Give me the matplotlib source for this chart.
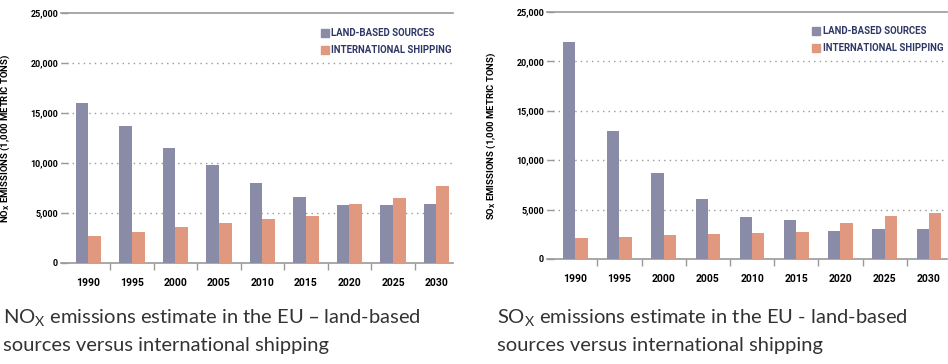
import matplotlib
matplotlib.use("Agg")
import matplotlib.pyplot as plt
import numpy as np
from matplotlib.patches import Patch

years = ["1990", "1995", "2000", "2005", "2010", "2015", "2020", "2025", "2030"]

nox_land = [16000, 13700, 11500, 9800, 8000, 6600, 5800, 5800, 5900]
nox_ship = [2700, 3100, 3600, 4000, 4400, 4700, 5900, 6500, 7700]

sox_land = [22000, 13000, 8700, 6100, 4300, 3900, 2800, 3000, 3000]
sox_ship = [2100, 2200, 2400, 2500, 2600, 2700, 3600, 4400, 4700]

yticks = [0, 5000, 10000, 15000, 20000, 25000]

LAND = "#8a8ba7"
SHIP = "#e0997f"
GRID = "#999999"
NAVY = "#2e3766"
COND = ["DejaVu Sans Condensed", "Noto Sans Condensed", "Liberation Sans Narrow", "Roboto"]
CAPF = ["Lato", "DejaVu Sans"]

fig = plt.figure(figsize=(9.48, 3.64), dpi=100)


def draw(rect, land, ship, gas, xlim, w, ylab_x, leg_xy):
    ax = fig.add_axes(rect)
    x = np.arange(len(years))
    ax.bar(x - w / 2, land, w, color=LAND, zorder=3)
    ax.bar(x + w / 2, ship, w, color=SHIP, zorder=3)
    ax.set_xlim(*xlim)
    ax.set_ylim(0, 25000)

    for s in ["left", "right"]:
        ax.spines[s].set_visible(False)
    ax.spines["bottom"].set_color(GRID)
    ax.spines["top"].set_color(GRID)
    ax.spines["bottom"].set_linewidth(1.2)
    ax.spines["top"].set_linewidth(1.2)

    ax.set_yticks(yticks)
    ax.set_yticklabels(["{:,}".format(v) for v in yticks],
                       family=COND, fontweight="bold", fontsize=6.5)
    ax.tick_params(axis="y", direction="in", length=5, color=GRID, width=1, pad=2)
    for v in yticks[1:-1]:
        ax.axhline(v, color=GRID, lw=1, ls=(0, (1, 3)), zorder=1)

    # category labels centred, tick marks between categories
    ax.set_xticks(x)
    ax.set_xticklabels(years, family=COND, fontweight="bold", fontsize=7.5)
    ax.tick_params(axis="x", which="major", length=0, pad=11)
    ax.set_xticks(x[:-1] + 0.5, minor=True)
    ax.tick_params(axis="x", which="minor", direction="out", length=5,
                   color=GRID, width=1)

    ax.set_ylabel(gas + r"$_\mathregular{X}$ EMISSIONS (1,000 METRIC TONS)",
                  family=COND, fontweight="bold", fontsize=6.8)
    ax.yaxis.set_label_coords(ylab_x, 0.5)

    handles = [Patch(color=LAND, label="LAND-BASED SOURCES"),
               Patch(color=SHIP, label="INTERNATIONAL SHIPPING")]
    leg = ax.legend(handles=handles, loc="upper left", bbox_to_anchor=leg_xy,
                    frameon=False, handlelength=0.85, handleheight=0.9,
                    handletextpad=0.25, labelspacing=0.75,
                    borderaxespad=0, borderpad=0,
                    prop={"family": COND, "weight": "bold", "size": 6.9})
    for t in leg.get_texts():
        t.set_color(NAVY)
    return ax


draw([61 / 948, 1 - 263 / 364, 392 / 948, 250 / 364], nox_land, nox_ship, "NO",
     (-0.632, 8.38), 0.29, -49 / 392, (0.663, 0.94))
draw([547 / 948, 1 - 259 / 364, 400 / 948, 247 / 364], sox_land, sox_ship, "SO",
     (-0.64, 8.41), 0.28, -49 / 400, (0.6625, 0.943))

capkw = dict(family=CAPF, fontsize=14.5, color="#333333", va="center")
fig.text(3 / 948, 1 - 318 / 364,
         r"NO$_\mathregular{X}$ emissions estimate in the EU – land-based", **capkw)
fig.text(3 / 948, 1 - 346 / 364, "sources versus international shipping", **capkw)
fig.text(497 / 948, 1 - 318 / 364,
         r"SO$_\mathregular{X}$ emissions estimate in the EU - land-based", **capkw)
fig.text(497 / 948, 1 - 346 / 364, "sources versus international shipping", **capkw)

fig.savefig("out.png", dpi=100)
